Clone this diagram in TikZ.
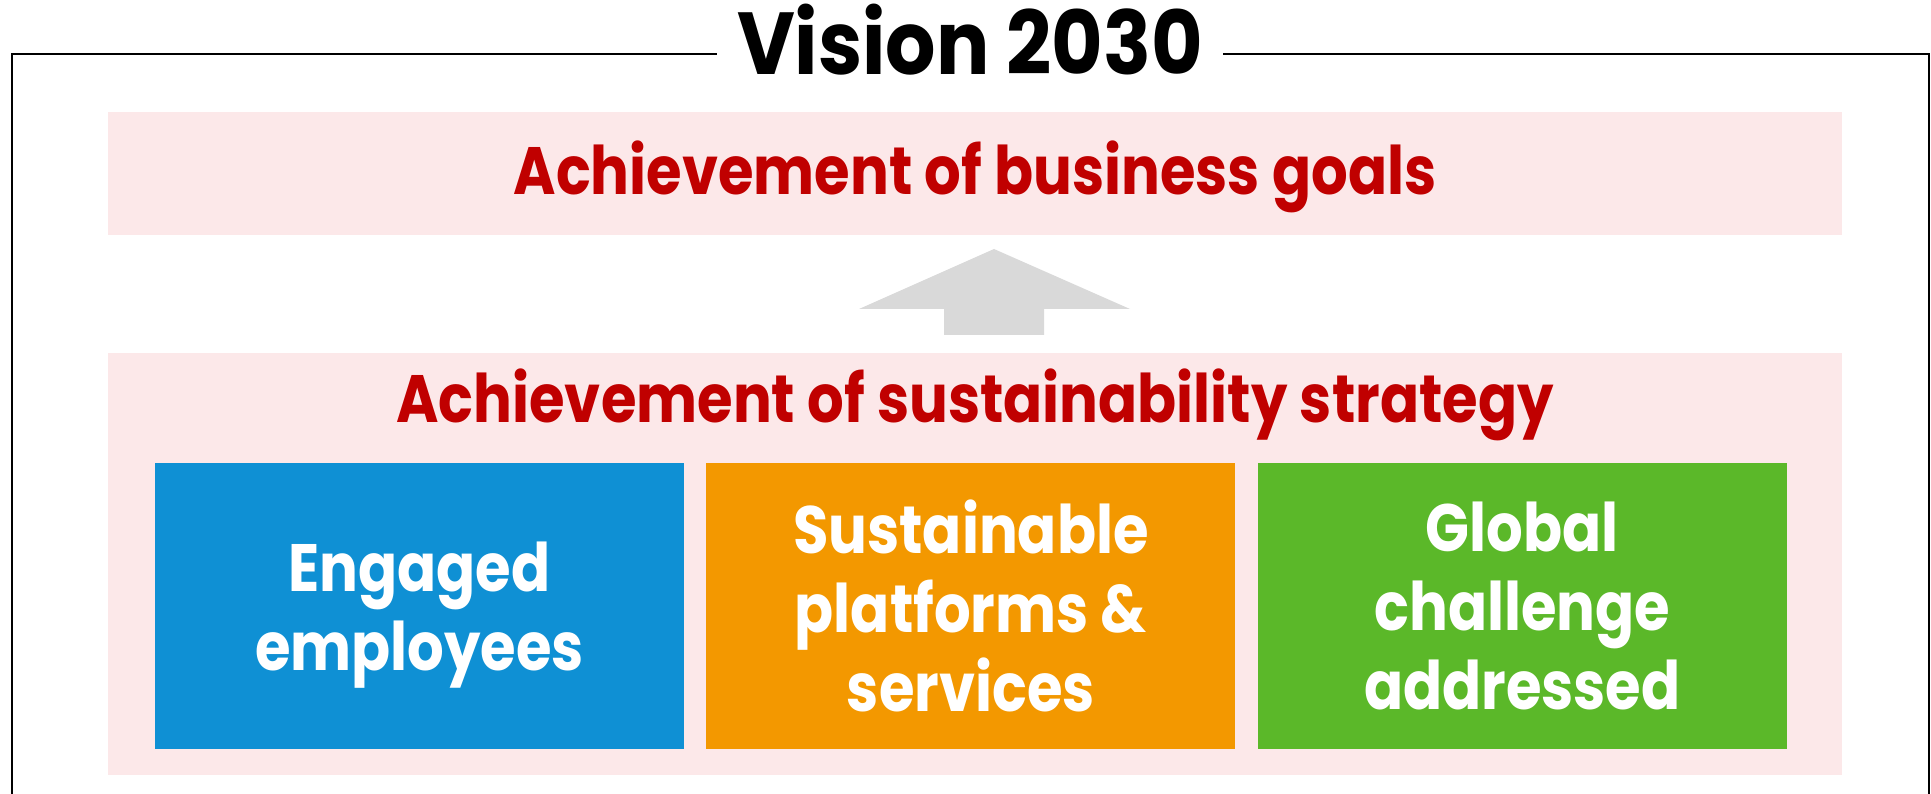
\documentclass[tikz,border=0pt]{standalone}
\usepackage{fontspec}
\setmainfont{Poppins}[FakeStretch=0.86]
\newfontfamily\titlefont{Poppins}[FakeStretch=0.9]
\usetikzlibrary{positioning}

\begin{document}
\begin{tikzpicture}[x=1pt,y=-1pt,
  frameline/.style={line width=2.5pt,black},
  band/.style={fill=bandpink,inner sep=0pt,minimum width=1734pt},
  heading/.style={anchor=base,text=headred,font=\bfseries\fontsize{67}{79}\selectfont},
  pillar/.style={inner sep=0pt,minimum width=529pt,minimum height=286pt,text depth=0pt,
    text=white,align=center,font=\bfseries\fontsize{67}{79}\selectfont}]

% colors
\definecolor{bandpink}{HTML}{FCE8E9}
\definecolor{headred}{HTML}{C00000}
\definecolor{empblue}{HTML}{0F90D4}
\definecolor{platorange}{HTML}{F39800}
\definecolor{globgreen}{HTML}{5BB829}
\definecolor{arrowgrey}{HTML}{D9D9D9}

\useasboundingbox (0,0) rectangle (1931,794);

% outer frame, open at the bottom, broken by the title
\node[anchor=base,inner xsep=20pt,font=\titlefont\bfseries\fontsize{88}{96}\selectfont]
  (title) at (970,75) {Vision 2030};
\coordinate (tl) at (12,54);
\coordinate (tr) at (1929,54);
\draw[frameline] (title.west |- tl) -- (tl) -- (12,800);
\draw[frameline] (title.east |- tr) -- (tr) -- (1929,800);

% business goals band
\node[band,minimum height=123pt] (goals) at (975,173.5) {};
\node[heading] (goalstext) at (975,195) {Achievement of business goals};

% block arrow up
\fill[arrowgrey] (994,249) -- (1130,309) -- (1044,309) -- (1044,335)
  -- (944,335) -- (944,309) -- (859,309) -- cycle;

% sustainability strategy band
\node[band,minimum height=422pt] (strategy) at (975,564) {};
\node[heading] (strategytext) at (975,422) {Achievement of sustainability strategy};

% the three pillars
\node[pillar,fill=empblue] (employees) at (419.5,606) {Engaged\\employees};
\node[pillar,fill=platorange,right=22pt of employees] (platforms)
  {Sustainable\\platforms \&\\services};
\node[pillar,fill=globgreen,right=22pt of platforms] (challenge)
  {Global\\challenge\\addressed};

\end{tikzpicture}
\end{document}
